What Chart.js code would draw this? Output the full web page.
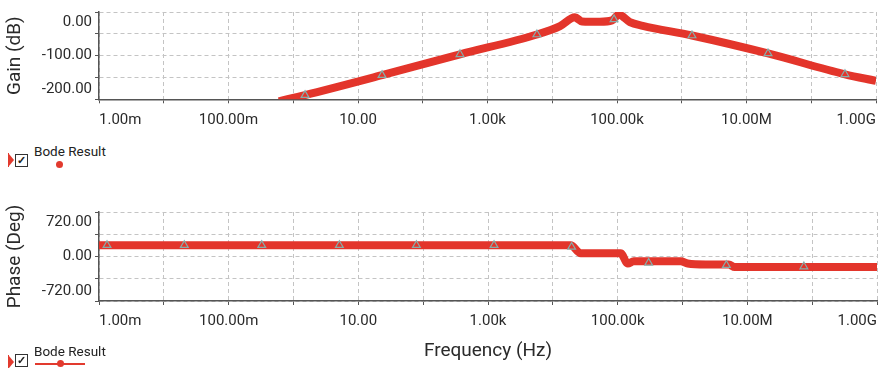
<!DOCTYPE html>
<html>
<head>
<meta charset="utf-8">
<script src="https://cdn.jsdelivr.net/npm/chart.js@4.4.0/dist/chart.umd.min.js"></script>
<style>
  body { margin: 0; background: #fff; width: 884px; height: 368px; overflow: hidden; position: relative; font-family: Roboto, sans-serif; }
  canvas { position: absolute; left: 0; }
  #gainChart { top: 0; }
  #phaseChart { top: 200px; }
  .lg { position: absolute; left: 0; width: 120px; height: 24px; }
  .lg .flag { position: absolute; left: 8px; width: 1px; height: 14px; background: #e23a2e; }
  .lg .tri { position: absolute; left: 9px; width: 0; height: 0; border-left: 5px solid #e23a2e; border-top: 6px solid transparent; border-bottom: 6px solid transparent; }
  .lg .box { position: absolute; left: 15px; width: 11px; height: 11px; border: 1.5px solid #333; font-size: 11px; line-height: 11px; text-align: center; font-weight: bold; color: #222; }
  .lg .txt { position: absolute; left: 34px; font-size: 13.5px; color: #222; white-space: nowrap; }
  .lg .dot { position: absolute; width: 7px; height: 7px; border-radius: 50%; background: #e23a2e; }
  .lg .ln { position: absolute; left: 35px; width: 50px; height: 1.5px; background: #e23a2e; }
</style>
</head>
<body>
<canvas id="gainChart" width="884" height="130"></canvas>
<canvas id="phaseChart" width="884" height="168"></canvas>

<div class="lg" style="top:140px">
  <div class="flag" style="top:13px"></div>
  <div class="tri" style="top:14px"></div>
  <div class="box" style="top:14px">✓</div>
  <div class="txt" style="top:3px">Bode Result</div>
  <div class="dot" style="left:56px; top:21px"></div>
</div>
<div class="lg" style="top:343px">
  <div class="flag" style="top:12px"></div>
  <div class="tri" style="top:13px"></div>
  <div class="box" style="top:11px">✓</div>
  <div class="txt" style="top:0px">Bode Result</div>
  <div class="ln" style="top:20px"></div>
  <div class="dot" style="left:57px; top:17px"></div>
</div>

<script>
// frequency axis: one tick per decade, label every second one
const decadeTicks = [1e-3, 1e-2, 1e-1, 1, 10, 100, 1e3, 1e4, 1e5, 1e6, 1e7, 1e8, 1e9];
const decadeLabels = ['1.00m', '', '100.00m', '', '10.00', '', '1.00k', '', '100.00k', '', '10.00M', '', '1.00G'];

// gain curve (dB)
const gainFreq = [0.6, 1.52, 23.5, 376, 5800, 13200, 22400, 28800, 54600, 83700, 107000, 158000, 250000, 1.44e6, 2.15e7, 3.32e8, 1e9];
const gainDb = [-236, -217.5, -158, -96, -37, -12, 14, 2, 1, 5, 22, 0, -11, -40, -93.5, -155.5, -175];
const gainMarkFreq = [1.52, 23.5, 376, 5800, 90000, 1.44e6, 2.15e7, 3.32e8];
const gainMarkDb = [-217.5, -158, -96, -37, 8, -40, -93.5, -155.5];

// phase curve (deg)
const phaseFreq = [1e-3, 18800, 26900, 111000, 143000, 177000, 940000, 1.2e6, 2.29e6, 5.18e6, 6.41e6, 1e9];
const phaseDeg = [236, 236, 67, 67, -147, -101, -101, -147, -167, -167, -222, -222];
const phaseMarkFreq = [1.33e-3, 0.0207, 0.324, 5.1, 78.7, 1240, 19500, 301000, 4.75e6, 7.45e7];
const phaseMarkDeg = [236, 236, 236, 236, 236, 236, 200, -135, -182, -210];

// y grid lines and labelled ticks
const gainGrid = [-230, -165, -100, -35, 30];
const gainLabelled = [-200, -100, 0];
const phaseGrid = [-930, -465, 0, 465, 930];
const phaseLabelled = [-720, 0, 720];

Chart.defaults.font.family = 'Roboto, sans-serif';
Chart.defaults.color = '#333';

const red = '#e3352b';
const gridCol = '#c4c4c4';
const axisCol = '#555';

function pts(xs, ys) {
  return xs.map((x, i) => ({ x: x, y: ys[i] }));
}

function xAxis(height, labelPad, title) {
  return {
    type: 'logarithmic',
    min: 1e-3,
    max: 1e9,
    afterBuildTicks: s => { s.ticks = decadeTicks.map(v => ({ value: v })); },
    afterFit: s => { s.height = height; },
    ticks: {
      autoSkip: false,
      maxRotation: 0,
      align: 'inner',
      padding: labelPad,
      font: { size: 15 },
      color: '#2a2a2a',
      callback: (v, i) => decadeLabels[i]
    },
    grid: { color: gridCol, tickColor: axisCol, tickLength: 4 },
    border: { display: true, color: axisCol, width: 1.5, dash: [4, 3] },
    title: title ? { display: true, text: title, font: { size: 19 }, color: '#2a2a2a', padding: { top: 4, bottom: 5 } } : { display: false }
  };
}

function yAxis(title, min, max, grid, labelled) {
  return {
    min: min,
    max: max,
    afterBuildTicks: s => {
      s.ticks = grid.concat(labelled.filter(v => !grid.includes(v)))
        .sort((a, b) => a - b).map(v => ({ value: v }));
    },
    afterFit: s => { s.width = 99; },
    ticks: {
      autoSkip: false,
      padding: 3,
      font: { size: 15 },
      color: '#2a2a2a',
      callback: v => labelled.includes(v) ? v.toFixed(2) : ''
    },
    grid: {
      color: c => grid.includes(c.tick.value) ? gridCol : 'rgba(0,0,0,0)',
      tickColor: c => grid.includes(c.tick.value) ? axisCol : 'rgba(0,0,0,0)',
      tickLength: 4
    },
    border: { display: true, color: axisCol, width: 1.5, dash: [4, 3] },
    title: { display: true, text: title, font: { size: 19 }, color: '#2a2a2a', padding: { top: 4, bottom: 0 } }
  };
}

function makeChart(id, lineData, markData, yOpts, xOpts, pad) {
  return new Chart(document.getElementById(id), {
    type: 'line',
    data: {
      datasets: [{
        data: markData,
        order: 0,
        showLine: false,
        pointStyle: 'triangle',
        pointRadius: 4.5,
        pointBorderWidth: 1.2,
        pointBorderColor: '#86aeab',
        pointBackgroundColor: 'rgba(0,0,0,0)'
      }, {
        data: lineData,
        order: 1,
        borderColor: red,
        borderWidth: 8,
        pointRadius: 0,
        fill: false,
        cubicInterpolationMode: 'monotone'
      }]
    },
    options: {
      responsive: false,
      animation: false,
      devicePixelRatio: 1,
      layout: { padding: pad },
      plugins: { legend: { display: false }, tooltip: { enabled: false } },
      scales: { x: xOpts, y: yOpts }
    }
  });
}

makeChart('gainChart',
  pts(gainFreq, gainDb), pts(gainMarkFreq, gainMarkDb),
  yAxis('Gain (dB)', -230, 30, gainGrid, gainLabelled),
  xAxis(30.7, 8, null),
  { top: 7, right: 7, left: 0, bottom: 0 });

makeChart('phaseChart',
  pts(phaseFreq, phaseDeg), pts(phaseMarkFreq, phaseMarkDeg),
  yAxis('Phase (Deg)', -930, 930, phaseGrid, phaseLabelled),
  xAxis(67, 7, 'Frequency (Hz)'),
  { top: 9, right: 7, left: 0, bottom: 0 });
</script>
</body>
</html>
